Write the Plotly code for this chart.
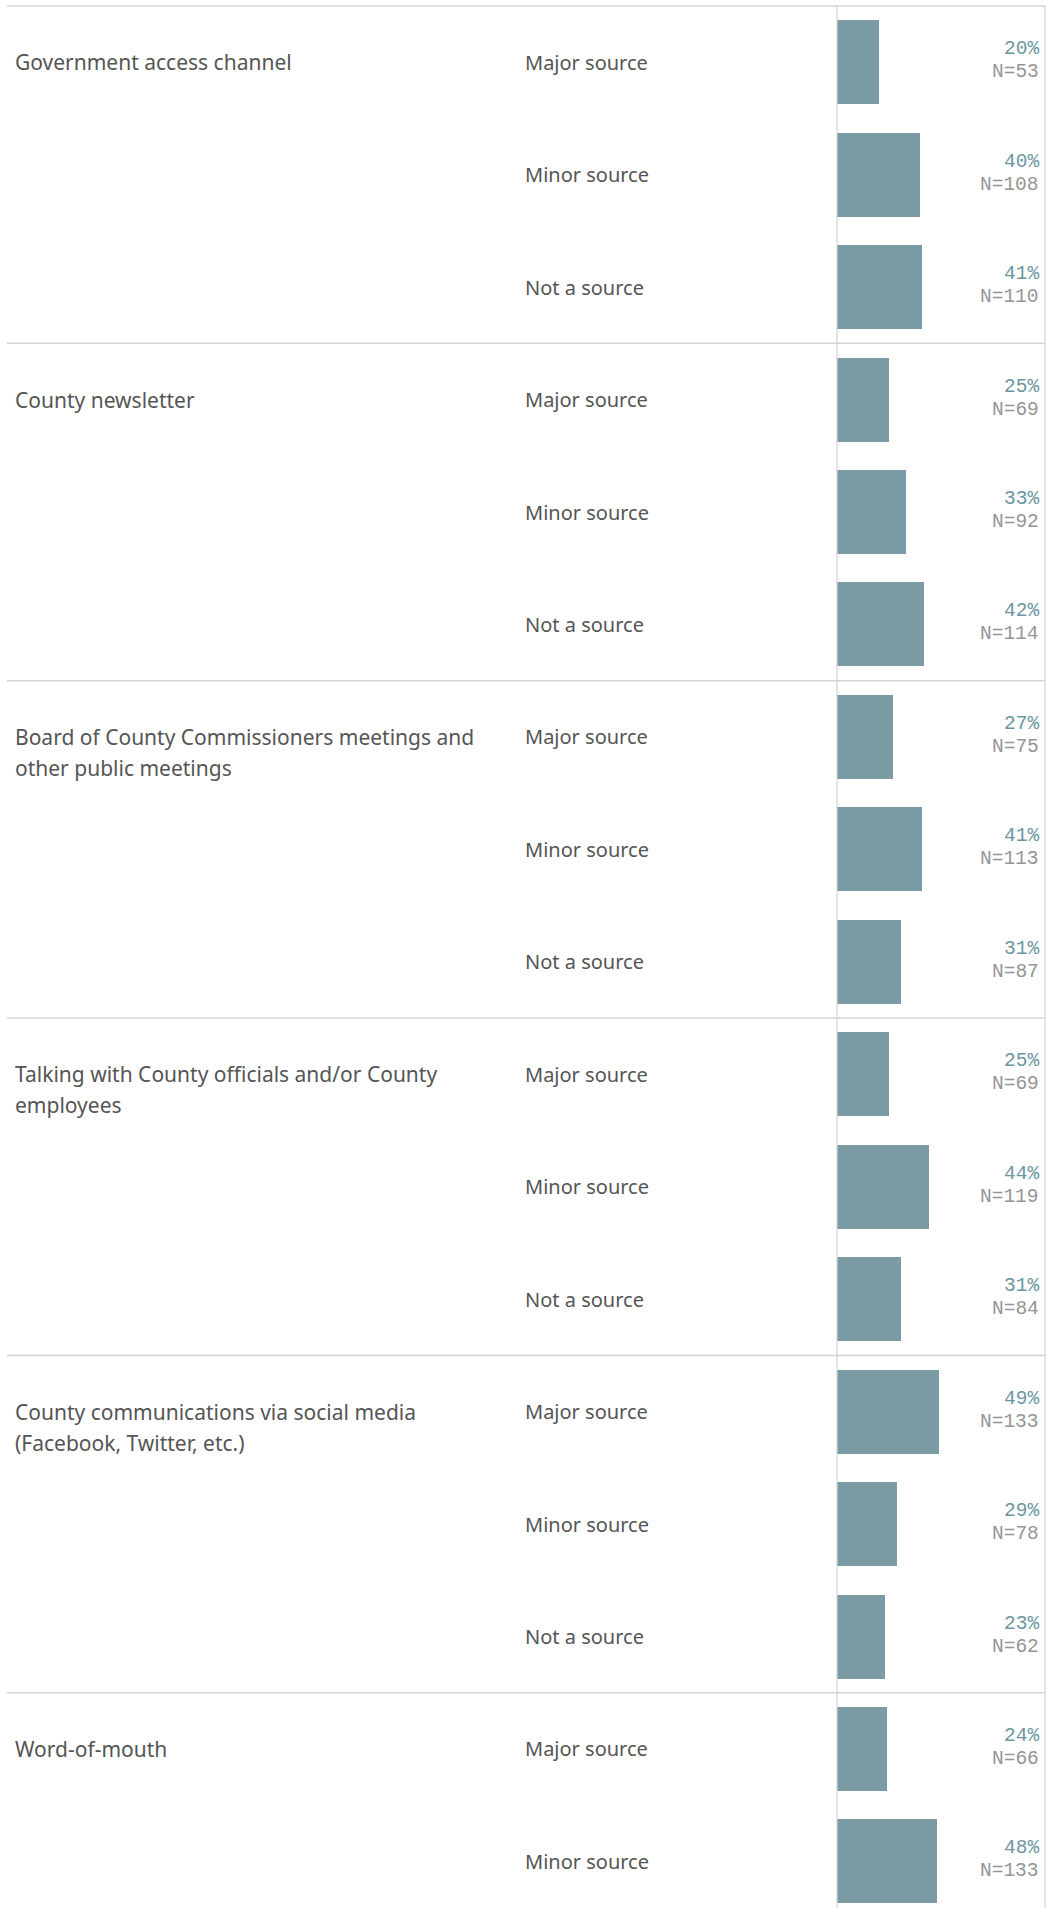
import textwrap
import plotly.graph_objects as go

# ---------------- data ----------------
topics = [
    "Government access channel",
    "County newsletter",
    "Board of County Commissioners meetings and other public meetings",
    "Talking with County officials and/or County employees",
    "County communications via social media (Facebook, Twitter, etc.)",
    "Word-of-mouth",
]
responses = ["Major source", "Minor source", "Not a source"]
pct_values = [
    [20, 40, 41],
    [25, 33, 42],
    [27, 41, 31],
    [25, 44, 31],
    [49, 29, 23],
    [24, 48],
]
n_values = [
    [53, 108, 110],
    [69, 92, 114],
    [75, 113, 87],
    [69, 119, 84],
    [133, 78, 62],
    [66, 133],
]

# ---------------- layout constants ----------------
W, H = 1053, 1908
ROW_PX = 112.45
FIRST_CENTER = 62.2
X0_PX, X1_PX = 837, 1045
PX_PER_PCT = 2.08
BAR_COLOR = "#7b9ca5"
LINE_COLOR = "#d3d3d3"
TEXT_COLOR = "#555555"
PCT_COLOR = "#6b96a2"
N_COLOR = "#959595"
LABEL_FONT = "Noto Sans, Open Sans, sans-serif"
MONO_FONT = "Liberation Mono, Courier New, monospace"

rows_y, rows_x, rows_pct, rows_n, rows_resp = [], [], [], [], []
group_start = []
r = 0
for g, vals in enumerate(pct_values):
    group_start.append(r)
    for k, v in enumerate(vals):
        rows_y.append(r)
        rows_x.append(v)
        rows_pct.append(v)
        rows_n.append(n_values[g][k])
        rows_resp.append(responses[k])
        r += 1

fig = go.Figure()
fig.add_trace(go.Bar(
    x=rows_x, y=rows_y, orientation="h", width=0.747,
    marker=dict(color=BAR_COLOR, line=dict(width=0)),
    hoverinfo="skip", showlegend=False,
))

y_top = -FIRST_CENTER / ROW_PX
y_bot = (H - FIRST_CENTER) / ROW_PX

annotations = []
# response labels and value labels
for y, resp, p, n in zip(rows_y, rows_resp, rows_pct, rows_n):
    annotations.append(dict(
        x=523 / W, xref="paper", y=y, yref="y", text=resp, showarrow=False,
        xanchor="left", yanchor="middle",
        font=dict(family=LABEL_FONT, size=20, color=TEXT_COLOR)))
    annotations.append(dict(
        x=1041 / W, xref="paper", y=y, yref="y", text=f"{p}%", showarrow=False,
        xanchor="right", yanchor="middle", yshift=13,
        font=dict(family=MONO_FONT, size=19.5, color=PCT_COLOR)))
    annotations.append(dict(
        x=1041 / W, xref="paper", y=y, yref="y", text=f"N={n}", showarrow=False,
        xanchor="right", yanchor="middle", yshift=-10,
        font=dict(family=MONO_FONT, size=19.5, color=N_COLOR)))

# topic labels (wrapped, first line aligned with the first row)
for g, topic in enumerate(topics):
    lines = textwrap.wrap(topic, 43)
    for j, line in enumerate(lines):
        annotations.append(dict(
            x=13 / W, xref="paper", y=group_start[g], yref="y", text=line,
            showarrow=False, xanchor="left", yanchor="middle", yshift=-31 * j,
            font=dict(family=LABEL_FONT, size=21, color=TEXT_COLOR)))

shapes = []
for gs in group_start:
    shapes.append(dict(type="line", xref="paper", yref="y",
                       x0=7 / W, x1=X1_PX / W, y0=gs - 0.5, y1=gs - 0.5,
                       line=dict(color=LINE_COLOR, width=1.5)))
# vertical axis line and right border
for xp in (X0_PX, X1_PX):
    shapes.append(dict(type="line", xref="paper", yref="paper",
                       x0=xp / W, x1=xp / W, y0=0, y1=(H - 6) / H,
                       line=dict(color=LINE_COLOR, width=1.2)))

fig.update_layout(
    width=W, height=H,
    margin=dict(l=0, r=0, t=0, b=0),
    paper_bgcolor="white", plot_bgcolor="white",
    xaxis=dict(domain=[X0_PX / W, X1_PX / W],
               range=[0, (X1_PX - X0_PX) / PX_PER_PCT],
               showgrid=False, zeroline=False, showticklabels=False, ticks=""),
    yaxis=dict(range=[y_bot, y_top], showgrid=False, zeroline=False,
               showticklabels=False, ticks=""),
    annotations=annotations, shapes=shapes, bargap=0,
)

fig.write_html(
    "out.html",
    config={"displayModeBar": False},
    post_script="document.body.style.margin='0px';document.body.style.overflow='hidden';",
)
